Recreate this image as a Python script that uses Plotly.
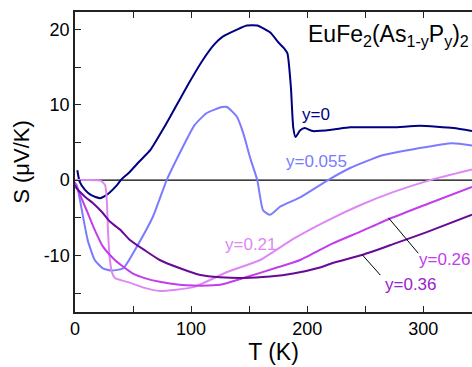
import plotly.graph_objects as go

# ---- data ----
T_y0 = [2, 4, 8.6, 14, 21.5, 27, 36, 40, 46, 55, 65, 73, 82, 96, 110, 120, 127, 140, 148, 157, 168, 175, 180, 183, 186, 188, 190, 194, 198, 205, 222, 237, 274, 297, 326, 342]
S_y0 = [1.3, -0.2, -1.3, -2.0, -2.4, -2.0, -0.7, 0.1, 0.9, 2.4, 4.0, 6.0, 8.4, 12.3, 15.9, 18.0, 19.0, 20.0, 20.5, 20.5, 19.6, 18.3, 17.5, 16.8, 12.3, 7.0, 5.7, 6.6, 6.9, 6.5, 6.7, 7.0, 7.0, 7.2, 6.9, 6.5]

T_y055 = [1, 2.6, 7, 11, 17, 24, 31.6, 41.6, 53, 67, 79, 88, 103, 113.5, 126.7, 131, 139.5, 145, 151, 157, 162, 168, 177, 194, 218, 237, 265, 295, 325, 342]
S_y055 = [-0.5, -1.3, -4.9, -8.0, -10.6, -11.7, -12.0, -11.7, -8.9, -4.9, 0.0, 2.9, 7.3, 8.9, 9.7, 9.7, 8.4, 6.2, 2.9, 0.0, -4.0, -4.6, -3.5, -2.3, 0.0, 1.6, 3.3, 4.2, 4.9, 4.6]

T_y021 = [0, 10, 22.4, 26, 27.5, 28.5, 30, 32, 34.5, 40, 47, 60, 73, 102, 131, 159.5, 188, 217, 246, 274, 306, 342]
S_y021 = [0.0, 0.0, -0.1, -0.7, -3.0, -7.0, -10.5, -12.3, -13.0, -13.3, -13.6, -14.3, -14.7, -14.2, -12.2, -10.6, -7.8, -5.4, -3.3, -1.6, 0.0, 1.4]

T_y026 = [0, 1.5, 10, 17, 24, 33, 41.6, 50, 60, 73, 90, 102, 125, 145, 174, 194, 222, 245, 271.5, 303, 342]
S_y026 = [-0.3, -0.9, -4.0, -6.6, -8.8, -10.4, -11.5, -12.4, -13.0, -13.5, -13.9, -14.0, -13.9, -13.0, -11.6, -10.6, -8.4, -6.9, -5.1, -3.2, -0.9]

T_y036 = [0, 1.5, 8.6, 15.8, 23, 30, 39, 47, 60, 73, 90.5, 108, 125, 145, 168, 188, 211, 222, 248, 274, 303, 342]
S_y036 = [-0.7, -1.1, -2.2, -3.1, -4.2, -5.5, -6.6, -7.9, -9.3, -10.6, -11.7, -12.6, -12.9, -13.0, -12.8, -12.4, -11.6, -11.0, -9.9, -8.5, -6.9, -4.6]

series_names = ["y=0", "y=0.055", "y=0.21", "y=0.26", "y=0.36"]
series_T = [T_y0, T_y055, T_y021, T_y026, T_y036]
series_S = [S_y0, S_y055, S_y021, S_y026, S_y036]
line_colors = ["#000080", "#7B7BFF", "#DD88F5", "#C23DEB", "#680A96"]
label_colors = ["#000080", "#7B7BFF", "#DD88F5", "#C23DEB", "#9A22CC"]
label_T = [207.8, 207.8, 151.7, 319, 289.7]
label_S = [8.7, 2.5, -8.6, -10.5, -13.8]

x_ticks = [0, 100, 200, 300]
x_ticktext = ["0", "100", "200", "300"]
y_ticks = [-10, 0, 10, 20]
y_ticktext = ["-10", "0", "10", "20"]

FONT = "Arial, Liberation Sans, sans-serif"

fig = go.Figure()
for name, T, S, c in zip(series_names, series_T, series_S, line_colors):
    fig.add_trace(go.Scatter(x=T, y=S, mode="lines", name=name,
                             line=dict(color=c, width=2, shape="spline", smoothing=0.5)))

# zero line
fig.add_shape(type="line", xref="paper", yref="y", x0=0, x1=1, y0=0, y1=0,
              line=dict(color="black", width=1.2), layer="below")

# leader lines
fig.add_shape(type="line", x0=270, y0=-5.0, x1=295.7, y1=-9.7, line=dict(color="black", width=1))
fig.add_shape(type="line", x0=247.4, y0=-9.9, x1=263, y1=-12.6, line=dict(color="black", width=1))

for name, tx, sy, c in zip(series_names, label_T, label_S, label_colors):
    fig.add_annotation(x=tx, y=sy, text=name, showarrow=False, xanchor="center", yanchor="middle",
                       font=dict(family=FONT, size=17, color=c))

fig.add_annotation(xref="paper", yref="paper", x=0.79, y=0.92, xanchor="center", yanchor="middle",
                   text="EuFe<sub>2</sub>(As<sub>1-y</sub>P<sub>y</sub>)<sub>2</sub>",
                   showarrow=False, font=dict(family=FONT, size=23, color="black"))

axis_common = dict(showgrid=False, zeroline=False, showline=True, linecolor="#222",
                   linewidth=1.5, ticks="inside", ticklen=6, tickwidth=1.2, tickcolor="#222",
                   tickfont=dict(family=FONT, size=18, color="black"))

fig.update_xaxes(range=[0, 342], tickvals=x_ticks, ticktext=x_ticktext, mirror="ticks",
                 minor=dict(dtick=50, tick0=0, ticks="inside", ticklen=6, tickwidth=1.2, tickcolor="#222"),
                 title=dict(text="T (K)", font=dict(family=FONT, size=23, color="black"), standoff=6),
                 **axis_common)
fig.update_yaxes(range=[-17.5, 22.3], tickvals=y_ticks, ticktext=y_ticktext,
                 minor=dict(dtick=5, tick0=0, ticks="inside", ticklen=6, tickwidth=1.2, tickcolor="#222"),
                 title=dict(text="S (μV/K)", font=dict(family=FONT, size=22, color="black"), standoff=8),
                 **axis_common)

fig.update_layout(width=472, height=367, margin=dict(l=75, r=0, t=12, b=55),
                  plot_bgcolor="white", paper_bgcolor="white", showlegend=False)

fig.write_html("out.html")
